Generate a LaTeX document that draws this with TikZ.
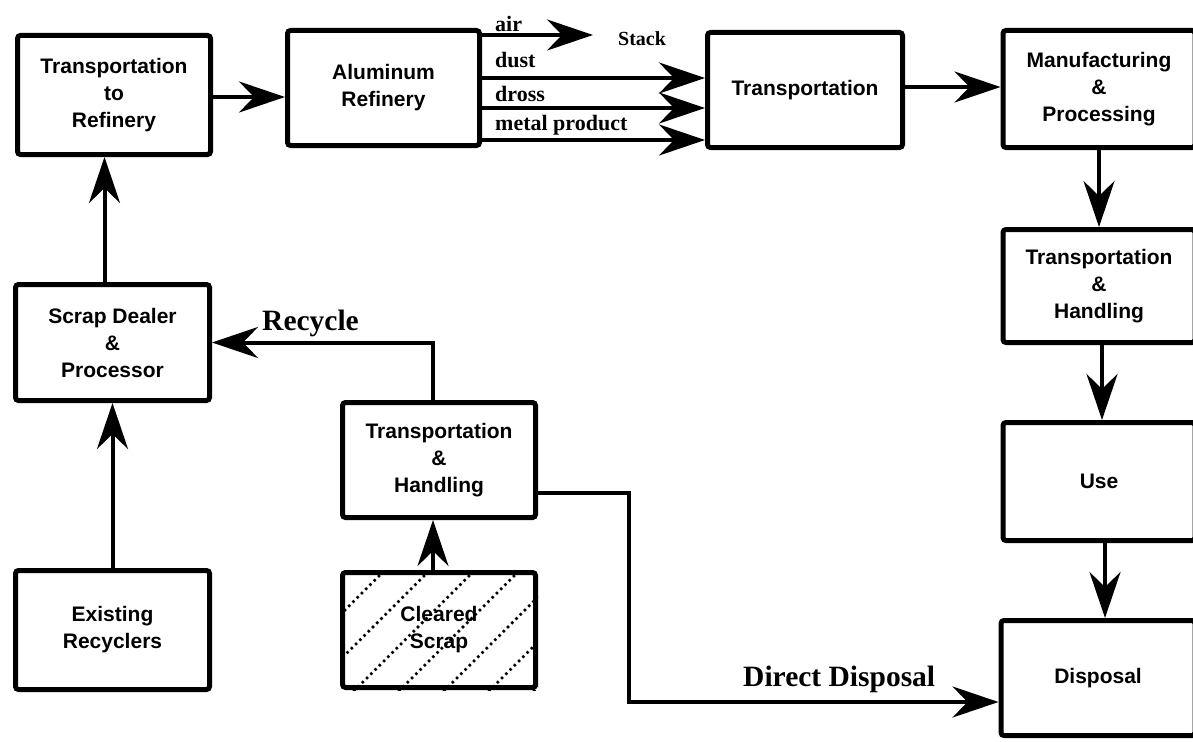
\documentclass[tikz,border=0pt]{standalone}
\usepackage{fontspec}
\setmainfont{Liberation Serif}
\newfontfamily\sansbox{Liberation Sans}
\usetikzlibrary{arrows.meta,calc}
\begin{document}
\begin{tikzpicture}[x=1pt,y=-1pt,
  box/.style={draw, line width=5pt, rounded corners=3pt, align=center, inner sep=0pt,
    font=\sansbox\bfseries\fontsize{21}{27}\selectfont},
  arr/.style={line width=4pt, -{Stealth[length=46pt,width=31pt,inset=15pt]}},
  lbl/.style={font=\bfseries\fontsize{22}{22}\selectfont, inner sep=0pt, anchor=base west},
  biglbl/.style={font=\bfseries\fontsize{29.5}{29.5}\selectfont, inner sep=0pt, anchor=base west},
  hatch/.style={line width=2.5pt, dash pattern=on 2.5pt off 3.5pt}]
\useasboundingbox (0,0) rectangle (1193,741);
\clip (0,0) rectangle (1193,741);

% hatching of the cleared scrap box
\begin{scope}
  \clip (340,570) rectangle (538,690);
  \foreach \c in {955,1000,...,1225}
    \draw[hatch] (\c-700,700) -- (\c-550,550);
\end{scope}

% boxes
\node[box, minimum width=193pt, minimum height=119pt] (TtR) at (114,95) {Transportation\\to\\Refinery};
\node[box, minimum width=192pt, minimum height=115pt] (AR) at (383.5,88) {Aluminum\\Refinery};
\node[box, minimum width=195pt, minimum height=115pt] (Tr) at (805,90) {Transportation};
\node[box, minimum width=192pt, minimum height=117pt] (MP) at (1099,89) {Manufacturing\\\&\\Processing};
\node[box, minimum width=192pt, minimum height=113pt] (THR) at (1099,286) {Transportation\\\&\\Handling};
\node[box, minimum width=192pt, minimum height=118pt] (Use) at (1099,481.5) {Use};
\node[box, minimum width=194pt, minimum height=115pt] (Disp) at (1098,678) {Disposal};
\node[box, minimum width=194pt, minimum height=116pt] (SD) at (112.5,342.5) {Scrap Dealer\\\&\\Processor};
\node[box, minimum width=194pt, minimum height=119pt] (ER) at (112.5,630) {Existing\\Recyclers};
\node[box, minimum width=193pt, minimum height=115pt] (THM) at (439,460) {Transportation\\\&\\Handling};
\node[box, minimum width=193pt, minimum height=115pt] (CS) at (439,630) {Cleared\\Scrap};

% top row connectors
\draw[arr] ([yshift=-2pt]TtR.east) coordinate (a1) -- (a1 -| AR.west);
\coordinate (stk) at (593,35);
\draw[arr] (AR.east |- stk) -- (stk);
\draw[arr] ([yshift=10pt]AR.east) coordinate (d1) -- (d1 -| Tr.west);
\draw[arr] ([yshift=-20pt]AR.east) coordinate (d2) -- (d2 -| Tr.west);
\draw[arr] ([yshift=-52pt]AR.east) coordinate (d3) -- (d3 -| Tr.west);
\draw[arr] ([yshift=3pt]Tr.east) coordinate (b1) -- (b1 -| MP.west);

% right column
\draw[arr] (MP.south) -- (THR.north);
\draw[arr] ([xshift=3pt]THR.south) -- ([xshift=3pt]Use.north);
\draw[arr] ([xshift=6pt]Use.south) -- ([xshift=7pt]Disp.north);

% left column
\draw[arr] (ER.north) -- (SD.south);
\draw[arr] ([xshift=-8pt]SD.north) -- ([xshift=-8pt]SD.north |- TtR.south);

% middle
\draw[arr] ([xshift=-6pt]THM.north) |- (SD.east);
\draw[arr] ([xshift=-6pt]CS.north) -- ([xshift=-6pt]THM.south);
\coordinate (dd) at (629,702);
\draw[arr] ([yshift=-33pt]THM.east) -| (dd) -- (dd -| Disp.west);

% labels
\node[lbl] (lair) at (495,32) {air};
\node[lbl] (ldust) at (495,68) {dust};
\node[lbl] (ldross) at (495,102) {dross};
\node[lbl] (lmetal) at (495,131) {metal product};
\node[font=\bfseries\fontsize{20}{20}\selectfont, inner sep=0pt, anchor=base west] (lstack) at (618,46) {Stack};
\node[biglbl] (lrec) at (262,330) {Recycle};
\node[biglbl] (ldd) at (743,686) {Direct Disposal};
\end{tikzpicture}
\end{document}
